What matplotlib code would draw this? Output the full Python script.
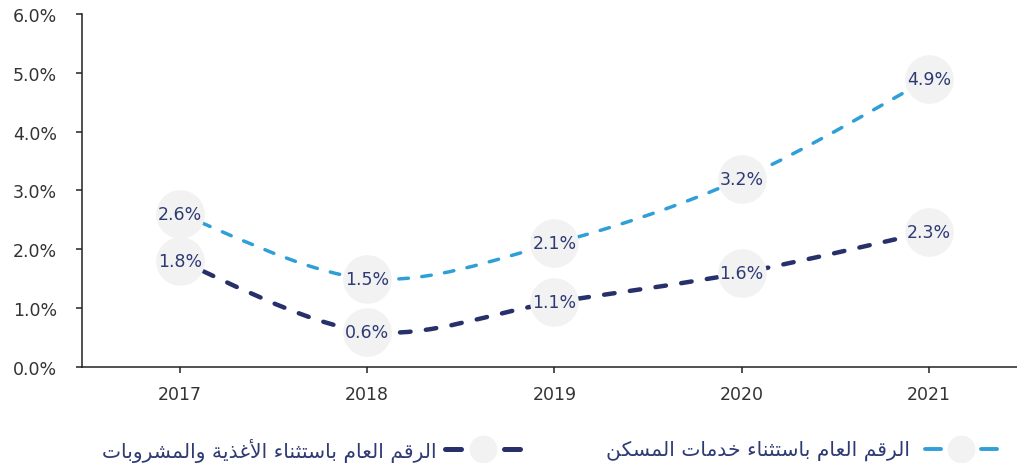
import matplotlib
matplotlib.use('Agg')
import matplotlib.pyplot as plt
from matplotlib.path import Path
from matplotlib.patches import PathPatch
from matplotlib.lines import Line2D
from matplotlib.ticker import FuncFormatter

# --- data ---
years = ['2017', '2018', '2019', '2020', '2021']
excl_housing = [2.6, 1.5, 2.1, 3.2, 4.9]     # light blue series
excl_food = [1.8, 0.6, 1.1, 1.6, 2.3]        # navy series
label_housing = 'الرقم العام باستثناء خدمات المسكن'
label_food = 'الرقم العام باستثناء الأغذية والمشروبات'

c_light = '#2f9fd8'
c_navy = '#27306b'
c_text = '#2e3a74'
c_circle = '#f2f2f2'

plt.rcParams['font.family'] = ['DejaVu Sans']
plt.rcParams['lines.scale_dashes'] = False

# matplotlib has no arabic shaping, so join letters by hand (presentation forms)
AR_FORMS = {
    '\u0621': (0xFE80, 'U'), '\u0623': (0xFE83, 'R'), '\u0627': (0xFE8D, 'R'),
    '\u0628': (0xFE8F, 'D'), '\u0629': (0xFE93, 'R'), '\u062A': (0xFE95, 'D'),
    '\u062B': (0xFE99, 'D'), '\u062E': (0xFEA5, 'D'), '\u062F': (0xFEA9, 'R'),
    '\u0630': (0xFEAB, 'R'), '\u0631': (0xFEAD, 'R'), '\u0633': (0xFEB1, 'D'),
    '\u0634': (0xFEB5, 'D'), '\u0639': (0xFEC9, 'D'), '\u063A': (0xFECD, 'D'),
    '\u0642': (0xFED5, 'D'), '\u0643': (0xFED9, 'D'), '\u0644': (0xFEDD, 'D'),
    '\u0645': (0xFEE1, 'D'), '\u0646': (0xFEE5, 'D'), '\u0648': (0xFEED, 'R'),
    '\u064A': (0xFEF1, 'D'),
}
LAM_ALEF = {'\u0627': 0xFEFB, '\u0623': 0xFEF7}


def shape_ar(s):
    out = []
    i = 0
    while i < len(s):
        c = s[i]
        if c not in AR_FORMS:
            out.append(c)
            i += 1
            continue
        prev = s[i - 1] if i > 0 else ''
        jp = prev in AR_FORMS and AR_FORMS[prev][1] == 'D'
        if c == '\u0644' and i + 1 < len(s) and s[i + 1] in LAM_ALEF:
            out.append(chr(LAM_ALEF[s[i + 1]] + (1 if jp else 0)))
            i += 2
            continue
        base, jt = AR_FORMS[c]
        nxt = s[i + 1] if i + 1 < len(s) else ''
        jn = jt == 'D' and nxt in AR_FORMS and AR_FORMS[nxt][1] != 'U'
        if jt == 'U':
            jp = False
        f = 3 if (jp and jn) else 1 if jp else 2 if jn else 0
        out.append(chr(base + f))
        i += 1
    return ''.join(reversed(out))


def smooth_path(xs, ys):
    # catmull-rom style bezier, like excel "smoothed line"
    pts = list(zip(xs, ys))
    verts = [pts[0]]
    codes = [Path.MOVETO]
    for i in range(len(pts) - 1):
        p0 = pts[i - 1] if i > 0 else pts[i]
        p1, p2 = pts[i], pts[i + 1]
        p3 = pts[i + 2] if i + 2 < len(pts) else p2
        c1 = (p1[0] + (p2[0] - p0[0]) / 6, p1[1] + (p2[1] - p0[1]) / 6)
        c2 = (p2[0] - (p3[0] - p1[0]) / 6, p2[1] - (p3[1] - p1[1]) / 6)
        verts += [c1, c2, p2]
        codes += [Path.CURVE4] * 3
    return Path(verts, codes)


fig = plt.figure(figsize=(10.17, 4.64), dpi=100)
ax = fig.add_axes([0.0806, 0.207, 0.9194, 0.7607])

x = list(range(len(years)))
series = [
    (excl_housing, c_light, 2.5, (0, (6.9, 9.7))),
    (excl_food, c_navy, 3.2, (0, (7.6, 11.1))),
]
for vals, col, lw, ls in series:
    ax.add_patch(PathPatch(smooth_path(x, vals), fill=False, edgecolor=col, lw=lw,
                           linestyle=ls, capstyle='round', zorder=2))
    ax.plot(x, vals, linestyle='none', marker='o', ms=35, mfc=c_circle,
            mec='none', zorder=3)
    for xi, v in zip(x, vals):
        ax.text(xi, v, f'{v:.1f}%', ha='center', va='center', fontsize=12.5,
                color=c_text, zorder=4)

ax.set_xlim(-0.523, 4.47)
ax.set_ylim(0, 6)
ax.set_yticks([0, 1, 2, 3, 4, 5, 6])
ax.yaxis.set_major_formatter(FuncFormatter(lambda v, p: f'{v:.1f}%'))
ax.set_xticks(x)
ax.set_xticklabels(years)

for s in ['top', 'right']:
    ax.spines[s].set_visible(False)
for s in ['left', 'bottom']:
    ax.spines[s].set_linewidth(1.1)
    ax.spines[s].set_color('#222222')
ax.tick_params(axis='y', length=4, width=1.1, pad=14, labelsize=12.5, colors='#222222',
               labelcolor='#333333')
ax.tick_params(axis='x', length=4, width=1.1, pad=9, labelsize=12.5, colors='#222222',
               labelcolor='#333333')

# legend drawn by hand (right-to-left layout)
W, H = 1017, 464
def fx(px):
    return px / W
def fy(py):
    return 1 - py / H

legend_items = [
    (label_housing, c_light, 2.8, 910, 925, 961, 997),
    (label_food, c_navy, 3.6, 437, 445, 483, 520),
]
for lab, col, lw, tx, x0, cx, x1 in legend_items:
    yy = fy(450)
    fig.add_artist(Line2D([fx(x0), fx(x0 + 16)], [yy, yy], color=col, lw=lw,
                          solid_capstyle='round', transform=fig.transFigure))
    fig.add_artist(Line2D([fx(x1 - 16), fx(x1)], [yy, yy], color=col, lw=lw,
                          solid_capstyle='round', transform=fig.transFigure))
    fig.add_artist(Line2D([fx(cx)], [yy], marker='o', ms=20, mfc=c_circle, mec='none',
                          linestyle='none', transform=fig.transFigure))
    fig.text(fx(tx), fy(451), shape_ar(lab), ha='right', va='center', fontsize=14.6,
             color=c_text)

fig.savefig('out.png', dpi=100)
